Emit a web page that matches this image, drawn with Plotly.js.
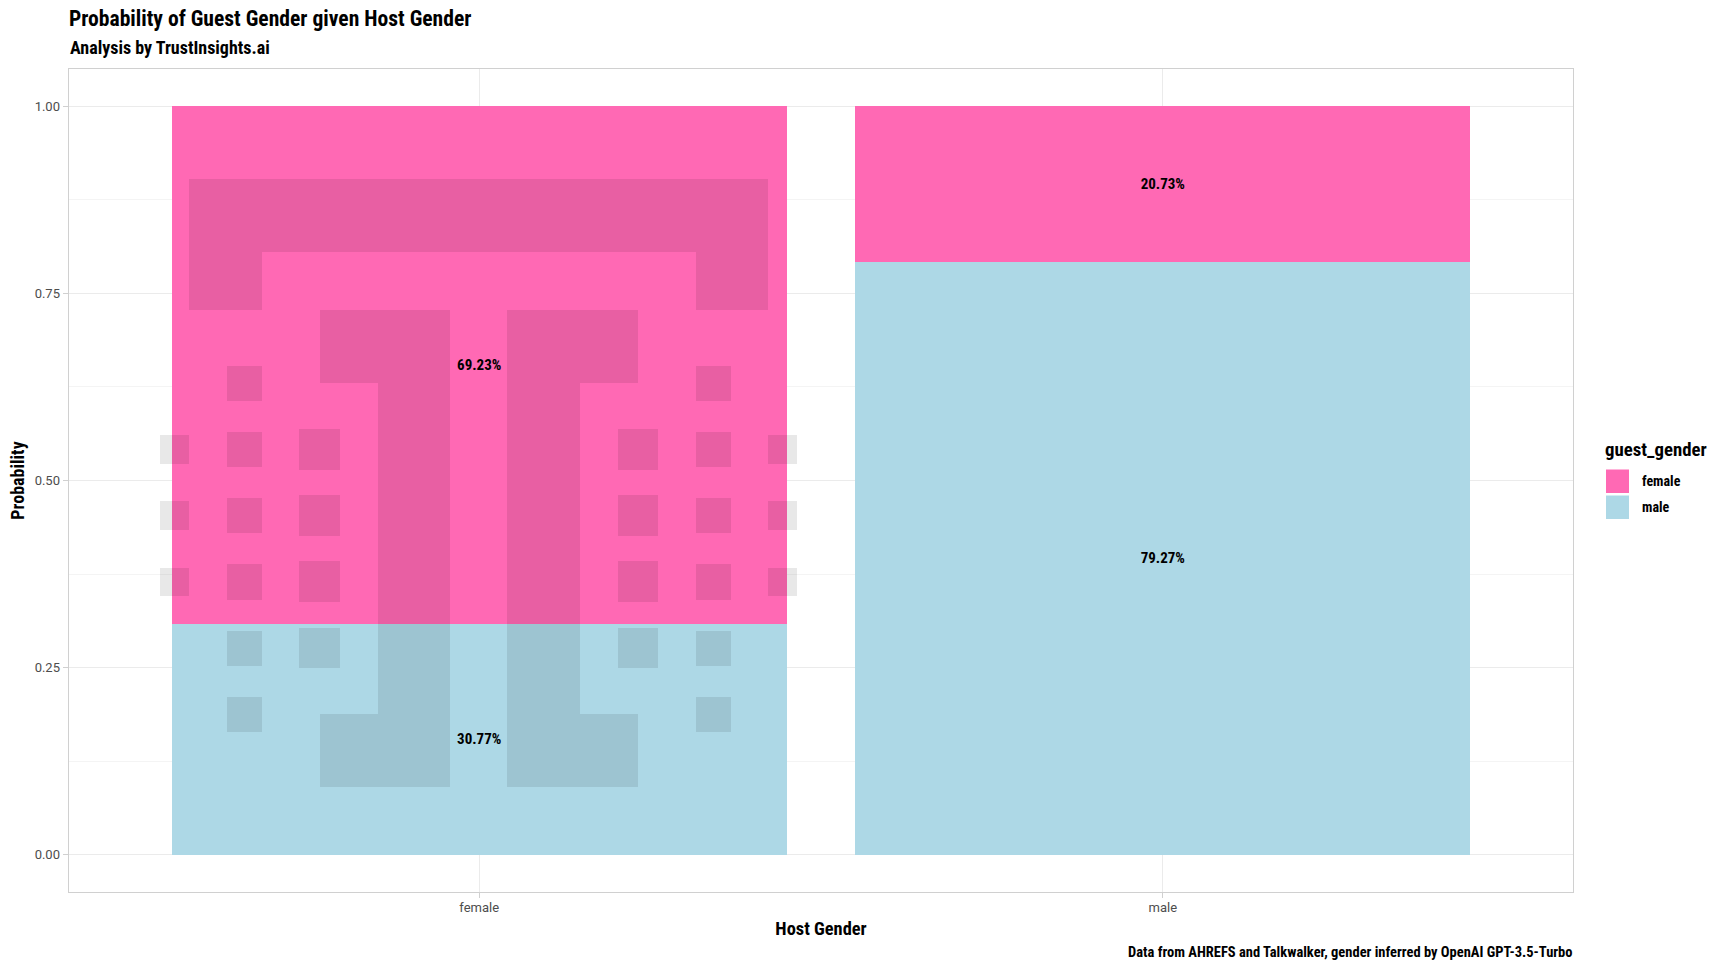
<!DOCTYPE html>
<html>
<head>
<meta charset="utf-8">
<script src="https://cdn.plot.ly/plotly-3.0.1.min.js"></script>
<style>
html,body{margin:0;padding:0;background:#fff;}
#chart{width:1728px;height:972px;}
.gtitle, .annotation-text, .xtitle, .ytitle, .bartext { font-stretch: 75%; }
</style>
</head>
<body>
<div id="chart"></div>
<script>
// ---- data ----
const HOST_GENDERS = ['female', 'male'];
const GUEST_GENDERS = ['female', 'male'];
const P_GUEST_FEMALE = [0.6923, 0.2073];
const P_GUEST_MALE = [0.3077, 0.7927];
const GUEST_COLORS = ['#FF69B4', '#ADD8E6'];
const Y_TICKVALS = [0, 0.25, 0.5, 0.75, 1];
const Y_TICKTEXT = ['0.00', '0.25', '0.50', '0.75', '1.00'];
const Y_MINORVALS = [0.125, 0.375, 0.625, 0.875];
const TITLE = 'Probability of Guest Gender given Host Gender';
const SUBTITLE = 'Analysis by TrustInsights.ai';
const CAPTION = 'Data from AHREFS and Talkwalker, gender inferred by OpenAI GPT-3.5-Turbo';
const X_TITLE = 'Host Gender';
const Y_TITLE = 'Probability';
const LEGEND_TITLE = 'guest_gender';

// ---- layout helpers ----
const FIG_W = 1728, FIG_H = 972;
const M = {l: 69, r: 155, t: 69, b: 80};
const PW = FIG_W - M.l - M.r, PH = FIG_H - M.t - M.b;
const px2x = px => (px - M.l) / PW;
const py2y = py => (FIG_H - M.b - py) / PH;

const NARROW = '"Roboto Condensed", Roboto, sans-serif';
const REG = 'Roboto, "Liberation Sans", sans-serif';
const pct = v => (v * 100).toFixed(2) + '%';

const traces = [
  {
    type: 'bar', name: GUEST_GENDERS[1], x: HOST_GENDERS, y: P_GUEST_MALE,
    width: 0.9, marker: {color: GUEST_COLORS[1], line: {width: 0}},
    text: P_GUEST_MALE.map(pct), textposition: 'inside', insidetextanchor: 'middle',
    textangle: 0, constraintext: 'none',
    textfont: {family: NARROW, size: 15, color: '#000000', weight: 'bold'},
    showlegend: false, hoverinfo: 'x+y+name'
  },
  {
    type: 'bar', name: GUEST_GENDERS[0], x: HOST_GENDERS, y: P_GUEST_FEMALE,
    width: 0.9, marker: {color: GUEST_COLORS[0], line: {width: 0}},
    text: P_GUEST_FEMALE.map(pct), textposition: 'inside', insidetextanchor: 'middle',
    textangle: 0, constraintext: 'none',
    textfont: {family: NARROW, size: 15, color: '#000000', weight: 'bold'},
    showlegend: false, hoverinfo: 'x+y+name'
  }
];

// watermark logo (decoration), figure pixel rectangles [x0, y0, x1, y1]
const LOGO_RECTS = [
  [189, 179, 768, 252], [189, 252, 262, 310], [696, 252, 768, 310],
  [320, 310, 450, 383], [378, 383, 450, 714], [320, 714, 450, 787],
  [507, 310, 638, 383], [507, 383, 580, 714], [507, 714, 638, 787]
];
const COL_A_Y = [[366, 401], [432, 467], [498, 533], [564, 600], [631, 666], [697, 732]];
const COL_B_Y = [[429, 470], [495, 536], [561, 602], [628, 668]];
const COL_C_Y = [[435, 464], [501, 530], [568, 596]];
COL_A_Y.forEach(([a, b]) => { LOGO_RECTS.push([227, a, 262, b]); LOGO_RECTS.push([696, a, 731, b]); });
COL_B_Y.forEach(([a, b]) => { LOGO_RECTS.push([299, a, 340, b]); LOGO_RECTS.push([618, a, 658, b]); });
COL_C_Y.forEach(([a, b]) => { LOGO_RECTS.push([160, a, 189, b]); LOGO_RECTS.push([768, a, 797, b]); });

const shapes = LOGO_RECTS.map(([x0, y0, x1, y1]) => ({
  type: 'rect', xref: 'paper', yref: 'paper', layer: 'above',
  x0: px2x(x0), x1: px2x(x1), y0: py2y(y1), y1: py2y(y0),
  fillcolor: 'rgba(0,0,0,0.09)', line: {width: 0}
}));

// custom legend
const annotations = [];
const LEG_X = 1606, KEY_W = 23, KEY_TOP = 469.5, KEY_H = 23.5, KEY_GAP = 2.5;
annotations.push({
  text: LEGEND_TITLE, xref: 'paper', yref: 'paper', x: px2x(LEG_X - 3), y: py2y(450),
  xanchor: 'left', yanchor: 'middle', showarrow: false,
  font: {family: NARROW, size: 18.8, color: '#000000', weight: 'bold'}
});
GUEST_GENDERS.forEach((g, i) => {
  const top = KEY_TOP + i * (KEY_H + KEY_GAP);
  shapes.push({
    type: 'rect', xref: 'paper', yref: 'paper', layer: 'above',
    x0: px2x(LEG_X), x1: px2x(LEG_X + KEY_W), y0: py2y(top + KEY_H), y1: py2y(top),
    fillcolor: GUEST_COLORS[i], line: {width: 0}
  });
  annotations.push({
    text: g, xref: 'paper', yref: 'paper', x: px2x(LEG_X + 34), y: py2y(top + KEY_H / 2),
    xanchor: 'left', yanchor: 'middle', showarrow: false,
    font: {family: NARROW, size: 14, color: '#000000', weight: 'bold'}
  });
});

annotations.push({
  text: SUBTITLE, xref: 'paper', yref: 'paper', x: px2x(68), y: py2y(47.5),
  xanchor: 'left', yanchor: 'middle', showarrow: false,
  font: {family: NARROW, size: 18, color: '#000000', weight: 'bold'}
});
annotations.push({
  text: CAPTION, xref: 'paper', yref: 'paper', x: px2x(1575), y: py2y(953),
  xanchor: 'right', yanchor: 'middle', showarrow: false,
  font: {family: NARROW, size: 14.5, color: '#000000', weight: 'bold'}
});

const layout = {
  width: FIG_W, height: FIG_H,
  margin: {l: M.l, r: M.r, t: M.t, b: M.b, autoexpand: false},
  paper_bgcolor: '#ffffff', plot_bgcolor: '#ffffff',
  barmode: 'stack',
  showlegend: false,
  title: {
    text: TITLE, x: 0, xref: 'paper', xanchor: 'left',
    y: 1 - 18 / FIG_H, yref: 'container', yanchor: 'middle',
    font: {family: NARROW, size: 21.6, color: '#000000', weight: 'bold'}
  },
  xaxis: {
    type: 'category', range: [-0.6, 1.6],
    showgrid: true, gridcolor: '#ebebeb', gridwidth: 1.1, zeroline: false,
    ticks: 'outside', ticklen: 5, tickwidth: 1.1, tickcolor: '#d0d0d0',
    ticklabelstandoff: -2,
    tickfont: {family: REG, size: 13, color: '#4d4d4d'},
    showline: true, mirror: true, linecolor: '#d0d0d0', linewidth: 1.4,
    title: {text: X_TITLE, standoff: 8, font: {family: NARROW, size: 18.4, color: '#000000', weight: 'bold'}}
  },
  yaxis: {
    range: [-0.05, 1.05], tickmode: 'array', tickvals: Y_TICKVALS, ticktext: Y_TICKTEXT,
    showgrid: true, gridcolor: '#ebebeb', gridwidth: 1.1, zeroline: false,
    minor: {tickmode: 'array', tickvals: Y_MINORVALS, showgrid: true, gridcolor: '#f4f4f4', gridwidth: 1, ticks: ''},
    ticks: 'outside', ticklen: 5, tickwidth: 1.1, tickcolor: '#d0d0d0',
    tickfont: {family: REG, size: 13, color: '#4d4d4d'},
    showline: true, mirror: true, linecolor: '#d0d0d0', linewidth: 1.4,
    title: {text: Y_TITLE, standoff: 5, font: {family: NARROW, size: 18, color: '#000000', weight: 'bold'}}
  },
  shapes: shapes,
  annotations: annotations
};

Plotly.newPlot('chart', traces, layout, {displayModeBar: false, staticPlot: true});
</script>
</body>
</html>
